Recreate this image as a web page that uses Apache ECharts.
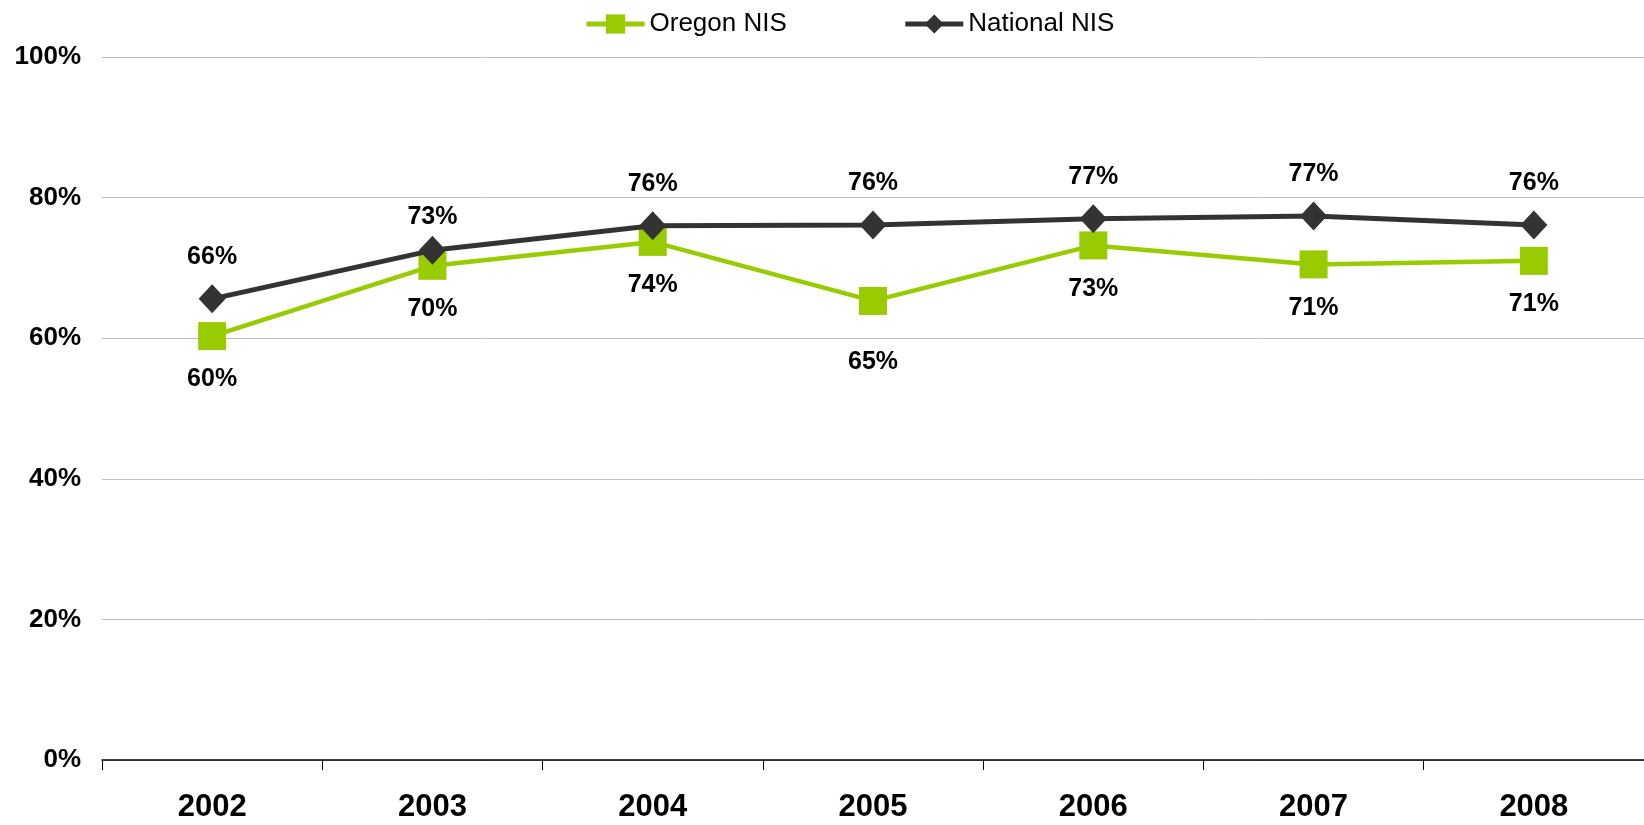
<!DOCTYPE html>
<html><head><meta charset="utf-8">
<script src="https://cdn.jsdelivr.net/npm/echarts@6/dist/echarts.min.js"></script>
<style>html,body{margin:0;padding:0;background:#fff}#c{width:1644px;height:825px}</style>
</head><body><div id="c"></div>
<script>
var years = ['2002','2003','2004','2005','2006','2007','2008'];
var oregon = [60.3, 70.3, 73.7, 65.3, 73.2, 70.5, 71.0];
var national = [65.6, 72.5, 76.0, 76.1, 77.0, 77.4, 76.1];
var yTicks = [0, 20, 40, 60, 80, 100];

var chart = echarts.init(document.getElementById('c'));
var font = 'Liberation Sans, Arial, sans-serif';
function pct(p){ return Math.round(p.value) + '%'; }
// per-point label nudges, as in the original chart
var oregonData = oregon.map(function(v, i){
  return i === 4 - 1 ? {value: v, label: {distance: 35}} : v;
});
var nationalData = national.map(function(v, i){
  return i === 1 ? {value: v, label: {distance: 6}} : v;
});
chart.setOption({
  animation: false,
  textStyle: {fontFamily: font},
  legend: {
    top: 6, left: 579, itemGap: 116, itemWidth: 58, itemHeight: 24,
    textStyle: {fontSize: 26, color: '#000', fontFamily: font},
    lineStyle: {width: 5},
    data: ['Oregon NIS', 'National NIS']
  },
  grid: {left: 102, right: -5, top: 57, bottom: 65},
  xAxis: {
    type: 'category', data: years, boundaryGap: true,
    axisLine: {lineStyle: {color: '#000', width: 1.5}},
    axisTick: {show: true, length: 10, lineStyle: {color: '#000'}},
    axisLabel: {fontSize: 31, fontWeight: 'bold', color: '#000', margin: 32, fontFamily: font}
  },
  yAxis: {
    type: 'value', min: 0, max: 100, interval: 20,
    axisLine: {show: false}, axisTick: {show: false},
    splitLine: {lineStyle: {color: '#c0c0c0', width: 1}},
    axisLabel: {fontSize: 26, fontWeight: 'bold', color: '#000', margin: 21, fontFamily: font,
      formatter: function(v){ return v + '%'; }}
  },
  series: [
    {
      name: 'Oregon NIS', type: 'line', data: oregonData,
      symbol: 'rect', symbolSize: 28,
      lineStyle: {color: '#99cc00', width: 4.5},
      itemStyle: {color: '#99cc00'},
      label: {show: true, position: 'bottom', distance: 17, fontSize: 25, fontWeight: 'bold', color: '#000', fontFamily: font,
        formatter: pct},
      z: 2
    },
    {
      name: 'National NIS', type: 'line', data: nationalData,
      symbol: 'diamond', symbolSize: [27, 29],
      lineStyle: {color: '#333333', width: 5},
      itemStyle: {color: '#333333'},
      label: {show: true, position: 'top', distance: 15, fontSize: 25, fontWeight: 'bold', color: '#000', fontFamily: font,
        formatter: pct},
      z: 3
    }
  ]
});
</script></body></html>
